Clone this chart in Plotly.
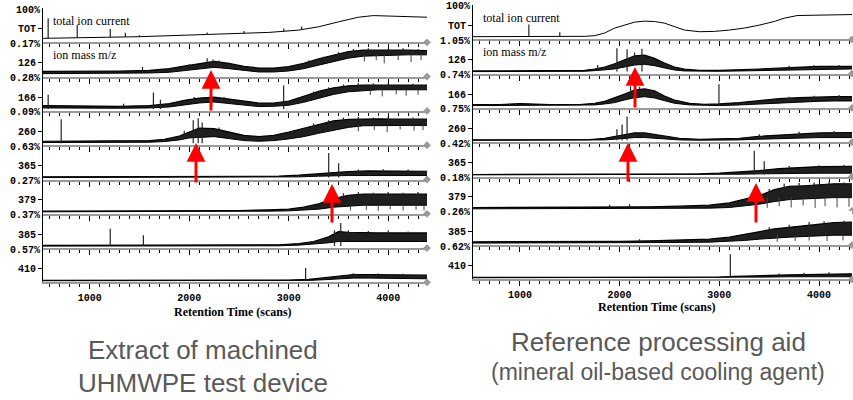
import plotly.graph_objects as go

W, H = 853, 400

# ---- shared labels -------------------------------------------------------
ROW_LABELS = ["TOT", "126", "166", "260", "365", "379", "385", "410"]
LEFT_SCALES = ["100%", "0.17%", "0.28%", "0.09%", "0.63%", "0.27%", "0.37%", "0.57%"]
RIGHT_SCALES = ["100%", "1.05%", "0.74%", "0.75%", "0.42%", "0.18%", "0.26%", "0.62%"]
X_TICKS = [1000, 2000, 3000, 4000]
LEFT_RANGE = [530, 4390]
RIGHT_RANGE = [530, 4330]

# ---- left panel: extract of machined UHMWPE ----------------------------
L_TOT_X = [530, 1000, 1500, 2000, 2400, 2800, 3100, 3300, 3500, 3700, 3850, 4000, 4200, 4390]
L_TOT_Y = [0.08, 0.1, 0.13, 0.18, 0.21, 0.26, 0.33, 0.43, 0.58, 0.72, 0.77, 0.76, 0.73, 0.72]
L_TOT_SPK_X = [582, 874, 1206, 1358, 1500, 2180, 2550, 2950, 3130]
L_TOT_SPK_LO = [0.08, 0.09, 0.11, 0.12, 0.13, 0.19, 0.22, 0.28, 0.33]
L_TOT_SPK_HI = [0.69, 0.49, 0.37, 0.25, 0.17, 0.26, 0.3, 0.38, 0.44]

L126_X = [530, 900, 1300, 1600, 1800, 1950, 2100, 2250, 2400, 2550, 2700, 2850, 3000, 3150, 3300, 3450, 3600, 3750, 3900, 4050, 4200, 4390]
L126_LO = [0.05, 0.05, 0.06, 0.07, 0.09, 0.14, 0.2, 0.24, 0.2, 0.14, 0.1, 0.1, 0.13, 0.2, 0.3, 0.42, 0.52, 0.58, 0.6, 0.62, 0.62, 0.62]
L126_HI = [0.12, 0.12, 0.13, 0.15, 0.2, 0.28, 0.36, 0.42, 0.36, 0.27, 0.22, 0.22, 0.26, 0.36, 0.5, 0.62, 0.72, 0.76, 0.77, 0.76, 0.76, 0.75]
L126_SPK_X = [1530, 2000, 2180, 2240, 2300, 2600, 3200, 3350, 3500, 3650, 3800, 4000, 4150, 4300]
L126_SPK_LO = [0.07, 0.2, 0.3, 0.35, 0.35, 0.2, 0.35, 0.45, 0.6, 0.7, 0.72, 0.72, 0.72, 0.72]
L126_SPK_HI = [0.25, 0.34, 0.52, 0.48, 0.45, 0.27, 0.45, 0.56, 0.7, 0.8, 0.82, 0.8, 0.82, 0.8]
L126_DIP_X = [3760, 3880, 3960, 4100, 4230, 4330]
L126_DIP_Y = [0.42, 0.46, 0.36, 0.46, 0.4, 0.46]

L166_X = [530, 900, 1300, 1600, 1800, 1950, 2100, 2250, 2400, 2550, 2700, 2850, 3000, 3150, 3300, 3450, 3600, 3750, 3900, 4050, 4200, 4390]
L166_LO = [0.05, 0.04, 0.04, 0.05, 0.08, 0.14, 0.2, 0.23, 0.18, 0.12, 0.09, 0.1, 0.13, 0.22, 0.34, 0.46, 0.54, 0.58, 0.6, 0.6, 0.6, 0.6]
L166_HI = [0.12, 0.1, 0.1, 0.12, 0.18, 0.28, 0.35, 0.38, 0.32, 0.24, 0.2, 0.2, 0.26, 0.4, 0.55, 0.66, 0.72, 0.74, 0.75, 0.74, 0.74, 0.74]
L166_SPK_X = [582, 1340, 1640, 1710, 2050, 2350, 2949, 3250, 3400, 3550, 3700, 3850, 4000, 4250]
L166_SPK_LO = [0.02, 0.02, 0.02, 0.02, 0.3, 0.3, 0.02, 0.45, 0.6, 0.68, 0.7, 0.7, 0.7, 0.7]
L166_SPK_HI = [0.45, 0.18, 0.52, 0.3, 0.38, 0.38, 0.73, 0.55, 0.68, 0.76, 0.8, 0.79, 0.8, 0.78]
L166_DIP_X = [3820, 3940, 4080, 4180, 4300]
L166_DIP_Y = [0.44, 0.4, 0.46, 0.42, 0.45]

L260_X = [530, 900, 1300, 1600, 1750, 1900, 2000, 2100, 2250, 2400, 2550, 2700, 2850, 3000, 3150, 3300, 3450, 3600, 3750, 3900, 4050, 4200, 4390]
L260_LO = [0.04, 0.04, 0.04, 0.05, 0.07, 0.12, 0.18, 0.2, 0.22, 0.16, 0.1, 0.08, 0.1, 0.15, 0.22, 0.32, 0.42, 0.5, 0.55, 0.56, 0.56, 0.56, 0.56]
L260_HI = [0.08, 0.08, 0.08, 0.1, 0.14, 0.24, 0.36, 0.48, 0.46, 0.36, 0.26, 0.22, 0.26, 0.36, 0.48, 0.6, 0.7, 0.74, 0.76, 0.76, 0.75, 0.75, 0.75]
L260_SPK_X = [713, 1950, 2040, 2090, 2130, 2300, 3250, 3400, 3550, 3700, 3850, 4000, 4250]
L260_SPK_LO = [0.02, 0.25, 0.02, 0.02, 0.02, 0.4, 0.5, 0.6, 0.7, 0.7, 0.7, 0.7, 0.7]
L260_SPK_HI = [0.75, 0.4, 0.72, 0.78, 0.65, 0.5, 0.62, 0.72, 0.8, 0.82, 0.8, 0.82, 0.8]
L260_DIP_X = [3700, 3860, 3990, 4120, 4260, 4350]
L260_DIP_Y = [0.38, 0.42, 0.36, 0.44, 0.4, 0.42]

L365_X = [530, 1000, 1500, 2000, 2500, 2900, 3100, 3300, 3450, 3600, 3800, 4000, 4200, 4390]
L365_LO = [0.02, 0.02, 0.02, 0.02, 0.02, 0.03, 0.04, 0.06, 0.08, 0.08, 0.08, 0.08, 0.08, 0.08]
L365_HI = [0.04, 0.04, 0.04, 0.04, 0.05, 0.06, 0.09, 0.14, 0.18, 0.2, 0.22, 0.22, 0.22, 0.21]
L365_SPK_X = [3402, 3502, 3700, 3950, 4200]
L365_SPK_LO = [0.02, 0.02, 0.18, 0.18, 0.18]
L365_SPK_HI = [0.76, 0.45, 0.26, 0.27, 0.26]

L379_X = [530, 1000, 1500, 2000, 2500, 2800, 3000, 3150, 3300, 3450, 3600, 3750, 3900, 4050, 4200, 4390]
L379_LO = [0.02, 0.02, 0.02, 0.02, 0.03, 0.04, 0.05, 0.07, 0.1, 0.16, 0.2, 0.22, 0.22, 0.22, 0.22, 0.22]
L379_HI = [0.04, 0.04, 0.04, 0.05, 0.06, 0.08, 0.1, 0.16, 0.26, 0.42, 0.52, 0.56, 0.56, 0.55, 0.56, 0.56]
L379_SPK_X = [3400, 3550, 3700, 3850, 4000, 4150, 4300]
L379_SPK_LO = [0.3, 0.45, 0.5, 0.5, 0.5, 0.5, 0.5]
L379_SPK_HI = [0.45, 0.58, 0.62, 0.6, 0.62, 0.6, 0.62]
L379_DIP_X = [3620, 3780, 3900, 4020, 4150, 4280, 4360]
L379_DIP_Y = [0.06, 0.08, 0.05, 0.1, 0.06, 0.08, 0.06]

L385_X = [530, 1000, 1500, 2000, 2500, 2900, 3100, 3250, 3400, 3500, 3600, 3750, 3900, 4050, 4200, 4390]
L385_LO = [0.02, 0.02, 0.02, 0.02, 0.02, 0.03, 0.05, 0.08, 0.12, 0.16, 0.16, 0.16, 0.16, 0.16, 0.16, 0.16]
L385_HI = [0.04, 0.04, 0.04, 0.04, 0.05, 0.06, 0.1, 0.16, 0.3, 0.46, 0.44, 0.42, 0.42, 0.42, 0.42, 0.42]
L385_SPK_X = [1206, 1539, 3460, 3523, 3600, 3800, 4000, 4200]
L385_SPK_LO = [0.02, 0.02, 0.02, 0.02, 0.38, 0.38, 0.38, 0.38]
L385_SPK_HI = [0.55, 0.35, 0.5, 0.72, 0.5, 0.48, 0.5, 0.46]

L410_X = [530, 1000, 1500, 2000, 2500, 3000, 3200, 3350, 3500, 3650, 3800, 4000, 4200, 4390]
L410_LO = [0.01, 0.01, 0.01, 0.01, 0.01, 0.01, 0.02, 0.04, 0.07, 0.09, 0.09, 0.08, 0.07, 0.07]
L410_HI = [0.02, 0.02, 0.02, 0.02, 0.02, 0.03, 0.05, 0.1, 0.16, 0.2, 0.2, 0.19, 0.18, 0.18]
L410_SPK_X = [3170, 3650, 3900, 4150]
L410_SPK_LO = [0.02, 0.15, 0.15, 0.15]
L410_SPK_HI = [0.4, 0.24, 0.23, 0.22]

# ---- right panel: reference processing aid -----------------------------
R_TOT_X = [530, 1000, 1400, 1650, 1750, 1850, 1950, 2050, 2150, 2250, 2350, 2450, 2550, 2650, 2800, 2950, 3100, 3250, 3400, 3550, 3650, 3780, 3950, 4150, 4330]
R_TOT_Y = [0.04, 0.04, 0.04, 0.05, 0.07, 0.15, 0.3, 0.4, 0.48, 0.51, 0.5, 0.45, 0.35, 0.24, 0.19, 0.2, 0.24, 0.3, 0.39, 0.5, 0.6, 0.68, 0.69, 0.7, 0.71]
R_TOT_SPK_X = [1090, 1400]
R_TOT_SPK_LO = [0.04, 0.04]
R_TOT_SPK_HI = [0.41, 0.17]

R126_X = [530, 1000, 1400, 1650, 1750, 1850, 1950, 2050, 2150, 2250, 2350, 2450, 2550, 2650, 2800, 3000, 3200, 3400, 3600, 3800, 4000, 4150, 4330]
R126_LO = [0.02, 0.02, 0.02, 0.03, 0.05, 0.07, 0.1, 0.16, 0.22, 0.24, 0.2, 0.13, 0.07, 0.04, 0.03, 0.03, 0.04, 0.05, 0.07, 0.09, 0.1, 0.1, 0.1]
R126_HI = [0.04, 0.04, 0.04, 0.06, 0.1, 0.16, 0.26, 0.38, 0.5, 0.52, 0.42, 0.28, 0.16, 0.1, 0.06, 0.06, 0.07, 0.1, 0.13, 0.16, 0.18, 0.18, 0.18]
R126_SPK_X = [1780, 1973, 2075, 2150, 2224, 3700, 3950, 4200]
R126_SPK_LO = [0.08, 0.02, 0.02, 0.3, 0.02, 0.12, 0.12, 0.12]
R126_SPK_HI = [0.22, 0.73, 0.7, 0.6, 0.71, 0.2, 0.22, 0.22]

R166_X = [530, 800, 1000, 1300, 1600, 1750, 1850, 1950, 2050, 2150, 2250, 2350, 2450, 2550, 2700, 2850, 3000, 3200, 3400, 3600, 3800, 4000, 4150, 4330]
R166_LO = [0.03, 0.03, 0.04, 0.03, 0.03, 0.05, 0.08, 0.12, 0.2, 0.27, 0.3, 0.26, 0.18, 0.1, 0.05, 0.03, 0.03, 0.05, 0.08, 0.12, 0.14, 0.16, 0.17, 0.17]
R166_HI = [0.06, 0.06, 0.09, 0.06, 0.06, 0.1, 0.16, 0.26, 0.38, 0.5, 0.54, 0.48, 0.32, 0.2, 0.1, 0.07, 0.08, 0.12, 0.18, 0.24, 0.27, 0.29, 0.3, 0.3]
R166_SPK_X = [2110, 2200, 2996, 3700, 3950, 4200]
R166_SPK_LO = [0.3, 0.3, 0.02, 0.22, 0.22, 0.22]
R166_SPK_HI = [0.62, 0.6, 0.68, 0.3, 0.33, 0.35]

R260_X = [530, 1000, 1500, 1700, 1850, 1950, 2050, 2150, 2250, 2350, 2450, 2600, 2800, 3000, 3200, 3400, 3600, 3800, 4000, 4330]
R260_LO = [0.02, 0.02, 0.02, 0.02, 0.03, 0.05, 0.08, 0.1, 0.1, 0.08, 0.05, 0.03, 0.02, 0.02, 0.03, 0.05, 0.07, 0.09, 0.1, 0.1]
R260_HI = [0.03, 0.03, 0.03, 0.04, 0.08, 0.14, 0.2, 0.24, 0.24, 0.2, 0.14, 0.08, 0.05, 0.06, 0.08, 0.14, 0.18, 0.22, 0.24, 0.25]
R260_SPK_X = [1973, 2025, 2075, 3400, 3800, 4150]
R260_SPK_LO = [0.02, 0.02, 0.02, 0.12, 0.18, 0.2]
R260_SPK_HI = [0.35, 0.5, 0.74, 0.2, 0.28, 0.3]

R365_X = [530, 1000, 1500, 2000, 2500, 2800, 3000, 3200, 3400, 3600, 3800, 4000, 4330]
R365_LO = [0.01, 0.01, 0.01, 0.01, 0.01, 0.01, 0.02, 0.03, 0.04, 0.05, 0.06, 0.06, 0.06]
R365_HI = [0.02, 0.02, 0.02, 0.02, 0.03, 0.04, 0.06, 0.09, 0.14, 0.2, 0.24, 0.26, 0.27]
R365_SPK_X = [3350, 3450, 3700, 4000, 4250]
R365_SPK_LO = [0.02, 0.02, 0.2, 0.2, 0.2]
R365_SPK_HI = [0.74, 0.42, 0.28, 0.3, 0.32]

R379_X = [530, 1000, 1500, 2000, 2300, 2600, 2900, 3100, 3250, 3400, 3550, 3700, 3850, 4000, 4150, 4330]
R379_LO = [0.02, 0.02, 0.02, 0.02, 0.02, 0.03, 0.04, 0.06, 0.1, 0.16, 0.24, 0.3, 0.32, 0.34, 0.36, 0.36]
R379_HI = [0.06, 0.06, 0.06, 0.07, 0.08, 0.1, 0.13, 0.2, 0.3, 0.42, 0.6, 0.7, 0.72, 0.76, 0.78, 0.78]
R379_SPK_X = [1900, 2100, 3500, 3650, 3800, 3950, 4100, 4250]
R379_SPK_LO = [0.04, 0.04, 0.45, 0.6, 0.62, 0.65, 0.68, 0.68]
R379_SPK_HI = [0.14, 0.16, 0.62, 0.78, 0.8, 0.82, 0.84, 0.82]
R379_DIP_X = [3480, 3600, 3720, 3840, 3960, 4060, 4180, 4300]
R379_DIP_Y = [0.05, 0.1, 0.06, 0.12, 0.05, 0.1, 0.06, 0.08]

R385_X = [530, 1000, 1500, 2000, 2300, 2600, 2900, 3100, 3250, 3400, 3550, 3700, 3850, 4000, 4150, 4330]
R385_LO = [0.02, 0.02, 0.02, 0.03, 0.03, 0.04, 0.05, 0.07, 0.1, 0.14, 0.18, 0.2, 0.22, 0.24, 0.26, 0.26]
R385_HI = [0.06, 0.06, 0.06, 0.07, 0.09, 0.11, 0.14, 0.2, 0.28, 0.38, 0.45, 0.5, 0.55, 0.6, 0.64, 0.66]
R385_SPK_X = [2200, 3500, 3700, 3900, 4050, 4250]
R385_SPK_LO = [0.05, 0.38, 0.45, 0.5, 0.55, 0.58]
R385_SPK_HI = [0.14, 0.5, 0.58, 0.66, 0.68, 0.7]
R385_DIP_X = [3580, 3760, 3900, 4080, 4240]
R385_DIP_Y = [0.06, 0.08, 0.1, 0.08, 0.1]

R410_X = [530, 1000, 1500, 2000, 2500, 3000, 3150, 3300, 3500, 3700, 3900, 4100, 4330]
R410_LO = [0.01, 0.01, 0.01, 0.01, 0.01, 0.01, 0.02, 0.03, 0.03, 0.04, 0.04, 0.04, 0.04]
R410_HI = [0.02, 0.02, 0.02, 0.02, 0.02, 0.03, 0.05, 0.07, 0.08, 0.1, 0.11, 0.12, 0.13]
R410_SPK_X = [3110, 3600, 3850, 4100]
R410_SPK_LO = [0.02, 0.08, 0.08, 0.08]
R410_SPK_HI = [0.72, 0.14, 0.16, 0.18]

# rows: (x, lo, hi, spikes (x, lo, hi), dips (x, y)); TOT row has hi=None
LEFT_ROWS = [
    (L_TOT_X, L_TOT_Y, None, (L_TOT_SPK_X, L_TOT_SPK_LO, L_TOT_SPK_HI), ([], [])),
    (L126_X, L126_LO, L126_HI, (L126_SPK_X, L126_SPK_LO, L126_SPK_HI), (L126_DIP_X, L126_DIP_Y)),
    (L166_X, L166_LO, L166_HI, (L166_SPK_X, L166_SPK_LO, L166_SPK_HI), (L166_DIP_X, L166_DIP_Y)),
    (L260_X, L260_LO, L260_HI, (L260_SPK_X, L260_SPK_LO, L260_SPK_HI), (L260_DIP_X, L260_DIP_Y)),
    (L365_X, L365_LO, L365_HI, (L365_SPK_X, L365_SPK_LO, L365_SPK_HI), ([], [])),
    (L379_X, L379_LO, L379_HI, (L379_SPK_X, L379_SPK_LO, L379_SPK_HI), (L379_DIP_X, L379_DIP_Y)),
    (L385_X, L385_LO, L385_HI, (L385_SPK_X, L385_SPK_LO, L385_SPK_HI), ([], [])),
    (L410_X, L410_LO, L410_HI, (L410_SPK_X, L410_SPK_LO, L410_SPK_HI), ([], [])),
]
RIGHT_ROWS = [
    (R_TOT_X, R_TOT_Y, None, (R_TOT_SPK_X, R_TOT_SPK_LO, R_TOT_SPK_HI), ([], [])),
    (R126_X, R126_LO, R126_HI, (R126_SPK_X, R126_SPK_LO, R126_SPK_HI), ([], [])),
    (R166_X, R166_LO, R166_HI, (R166_SPK_X, R166_SPK_LO, R166_SPK_HI), ([], [])),
    (R260_X, R260_LO, R260_HI, (R260_SPK_X, R260_SPK_LO, R260_SPK_HI), ([], [])),
    (R365_X, R365_LO, R365_HI, (R365_SPK_X, R365_SPK_LO, R365_SPK_HI), ([], [])),
    (R379_X, R379_LO, R379_HI, (R379_SPK_X, R379_SPK_LO, R379_SPK_HI), (R379_DIP_X, R379_DIP_Y)),
    (R385_X, R385_LO, R385_HI, (R385_SPK_X, R385_SPK_LO, R385_SPK_HI), (R385_DIP_X, R385_DIP_Y)),
    (R410_X, R410_LO, R410_HI, (R410_SPK_X, R410_SPK_LO, R410_SPK_HI), ([], [])),
]

# panel geometry in pixels
PANELS = [
    dict(rows=LEFT_ROWS, scales=LEFT_SCALES, xr=LEFT_RANGE, x0=43, x1=427, top=8, rh=34.3),
    dict(rows=RIGHT_ROWS, scales=RIGHT_SCALES, xr=RIGHT_RANGE, x0=473, x1=852, top=5, rh=34.3),
]

MONO = "Liberation Mono, Courier New, monospace"
SERIF = "Liberation Serif, Times New Roman, serif"
SANS = "Liberation Sans, Arial, sans-serif"
INK = "black"


def px(x):
    return x / W


def py(y):
    return 1 - y / H


def segments(xs, y0s, y1s):
    sx, sy = [], []
    for x, a, b in zip(xs, y0s, y1s):
        sx += [x, x, None]
        sy += [a, b, None]
    return sx, sy


fig = go.Figure()
annotations = []

for p, panel in enumerate(PANELS):
    for r, (x, lo, hi, spikes, dips) in enumerate(panel["rows"]):
        k = p * 8 + r + 1
        xa = "x" if k == 1 else f"x{k}"
        ya = "y" if k == 1 else f"y{k}"
        top = panel["top"] + r * panel["rh"]
        bot = top + panel["rh"]

        fig.add_trace(go.Scatter(x=x, y=lo, mode="lines", line=dict(color=INK, width=1),
                                 xaxis=xa, yaxis=ya, hoverinfo="skip"))
        if hi is not None:
            fig.add_trace(go.Scatter(x=x, y=hi, mode="lines", line=dict(color=INK, width=1.2),
                                     fill="tonexty", fillcolor="rgba(0,0,0,0.88)",
                                     xaxis=xa, yaxis=ya, hoverinfo="skip"))
        if spikes[0]:
            sx, sy = segments(*spikes)
            fig.add_trace(go.Scatter(x=sx, y=sy, mode="lines", line=dict(color="#222", width=1.2),
                                     xaxis=xa, yaxis=ya, hoverinfo="skip"))
        if dips[0]:
            # downward noise spikes: from the dip value up to the band
            tops = [lo[-1]] * len(dips[0])
            sx, sy = segments(dips[0], dips[1], tops)
            fig.add_trace(go.Scatter(x=sx, y=sy, mode="lines", line=dict(color="#444", width=1),
                                     xaxis=xa, yaxis=ya, hoverinfo="skip"))
        # small end-of-trace marker on the baseline
        fig.add_trace(go.Scatter(x=[panel["xr"][1]], y=[-0.04], mode="markers",
                                 marker=dict(symbol="diamond", size=6, color="#9a9a9a"),
                                 cliponaxis=False, xaxis=xa, yaxis=ya, hoverinfo="skip"))

        fig.layout[f"xaxis{'' if k == 1 else k}"] = dict(
            domain=[px(panel["x0"]), px(panel["x1"])], anchor=ya, range=panel["xr"],
            showline=True, linecolor="#9a9a9a", linewidth=2,
            ticks="outside", tickvals=X_TICKS, ticklen=5, tickcolor=INK, tickwidth=1,
            minor=dict(dtick=100, tick0=0, ticks="outside", ticklen=3, tickcolor=INK),
            showticklabels=(r == 7), showgrid=False, zeroline=False,
            tickfont=dict(family=MONO, size=10, color=INK, weight="bold"),
        )
        fig.layout[f"yaxis{'' if k == 1 else k}"] = dict(
            domain=[py(bot), py(top)], anchor=xa, range=[-0.04, 1.0],
            showline=True, linecolor=INK, linewidth=1,
            ticks="outside", tickvals=[0.38], ticktext=[ROW_LABELS[r]], ticklen=4,
            tickcolor=INK, showgrid=False, zeroline=False,
            tickfont=dict(family=MONO, size=10, color=INK, weight="bold"),
        )
        annotations.append(dict(
            x=px(panel["x0"] - 1), y=py(top + 2), xref="paper", yref="paper",
            text=panel["scales"][r], showarrow=False, xanchor="right", yanchor="middle",
            font=dict(family=MONO, size=10, color=INK, weight="bold"),
        ))

    # in-plot labels
    annotations.append(dict(x=px(panel["x0"] + 8), y=py(panel["top"] + 13), xref="paper", yref="paper",
                            text="total ion current", showarrow=False, xanchor="left", yanchor="middle",
                            font=dict(family=SERIF, size=12, color=INK)))
    annotations.append(dict(x=px(panel["x0"] + 8), y=py(panel["top"] + panel["rh"] + 13), xref="paper",
                            yref="paper", text="ion mass m/z", showarrow=False, xanchor="left",
                            yanchor="middle", font=dict(family=SERIF, size=12, color=INK)))

# axis titles
for cx, cy in [(233, 312), (657, 307)]:
    annotations.append(dict(x=px(cx), y=py(cy), xref="paper", yref="paper",
                            text="<b>Retention Time (scans)</b>", showarrow=False,
                            xanchor="center", yanchor="middle",
                            font=dict(family=SERIF, size=12, color=INK)))

# captions
CAPTIONS = [
    ("Extract of machined", 203, 350, 26),
    ("UHMWPE test device", 203, 383, 26),
    ("Reference processing aid", 658, 342, 26),
    ("(mineral oil-based cooling agent)", 658, 372, 23),
]
for text, cx, cy, size in CAPTIONS:
    annotations.append(dict(x=px(cx), y=py(cy), xref="paper", yref="paper", text=text,
                            showarrow=False, xanchor="center", yanchor="middle",
                            font=dict(family=SANS, size=size, color="#595959")))

# red arrows: (x, tip y, tail y) in pixels
ARROWS = [(211, 70, 112), (196, 143, 184), (332, 184, 224),
          (635, 67, 109), (628, 143, 183), (756, 183, 224)]
for ax_, tip, tail in ARROWS:
    annotations.append(dict(x=px(ax_), y=py(tip), xref="paper", yref="paper", text="",
                            showarrow=True, ax=0, ay=tail - tip, axref="pixel", ayref="pixel",
                            arrowhead=2, arrowsize=1.25, arrowwidth=3, arrowcolor="#ff0000",
                            standoff=0, startstandoff=0))

fig.update_layout(
    width=W, height=H, margin=dict(l=0, r=0, t=0, b=0),
    paper_bgcolor="white", plot_bgcolor="white", showlegend=False,
    annotations=annotations,
)

# drop the page's default body margin so the figure sits at the window origin
fig.write_html("out.html", config={"displayModeBar": False},
               post_script="document.body.style.margin='0';")
